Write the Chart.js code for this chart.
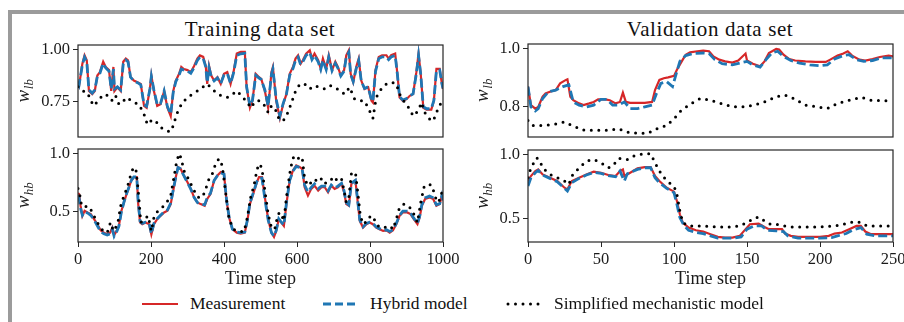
<!DOCTYPE html>
<html lang="en">
<head>
  <meta charset="UTF-8">
  <title>Training and validation data set</title>
  <script src="https://cdn.jsdelivr.net/npm/chart.js"></script>
  <style>
    body {
      margin: 0;
      width: 904px;
      height: 322px;
      position: relative;
      overflow: hidden;
      background: #fff;
      font-family: 'Liberation Serif', 'Times New Roman', serif;
      color: #111;
    }
    .frame-top { position: absolute; left: 8px; top: 10px; width: 896px; height: 4px; background: #9b9b9b; }
    .frame-left { position: absolute; left: 8px; top: 10px; width: 4px; height: 312px; background: #9b9b9b; }
    canvas { position: absolute; }
    .title {
      position: absolute;
      top: 17px;
      width: 400px;
      text-align: center;
      font-size: 21px;
      line-height: 24px;
      letter-spacing: 0.6px;
    }
    .leg {
      position: absolute;
      top: 293px;
      font-size: 17.5px;
      line-height: 20px;
      white-space: nowrap;
    }
    svg { position: absolute; }
  </style>
</head>
<body>
  <div class="frame-top"></div>
  <div class="frame-left"></div>

  <div class="title" style="left:60px">Training data set</div>
  <div class="title" style="left:510px">Validation data set</div>

  <canvas id="trLb" width="460" height="100" style="left:0;top:40px"></canvas>
  <canvas id="trHb" width="460" height="146" style="left:0;top:144px"></canvas>
  <canvas id="vaLb" width="454" height="100" style="left:450px;top:40px"></canvas>
  <canvas id="vaHb" width="454" height="146" style="left:450px;top:144px"></canvas>

  <svg style="left:142px;top:298px" width="36" height="12"><line x1="0" y1="6" x2="36" y2="6" stroke="#d62728" stroke-width="2.2"/></svg>
  <div class="leg" style="left:190px">Measurement</div>
  <svg style="left:323px;top:298px" width="36" height="12"><line x1="0" y1="6" x2="36" y2="6" stroke="#1f77b4" stroke-width="2.8" stroke-dasharray="8 4"/></svg>
  <div class="leg" style="left:370px">Hybrid model</div>
  <svg style="left:506px;top:298px" width="36" height="12"><line x1="2" y1="6" x2="34" y2="6" stroke="#000" stroke-width="3" stroke-linecap="round" stroke-dasharray="0 7.5"/></svg>
  <div class="leg" style="left:554px">Simplified mechanistic model</div>

  <script>
    // tick positions and labels
    const trTicksX = [0, 200, 400, 600, 800, 1000];
    const vaTicksX = [0, 50, 100, 150, 200, 250];
    const trLbTicks = [0.75, 1.00];
    const trLbTickLabels = ['0.75', '1.00'];
    const trHbTicks = [0.5, 1.0];
    const trHbTickLabels = ['0.5', '1.0'];
    const vaLbTicks = [0.8, 1.0];
    const vaLbTickLabels = ['0.8', '1.0'];
    const vaHbTicks = [0.5, 1.0];
    const vaHbTickLabels = ['0.5', '1.0'];

    // training set, w_lb
    const trLbT = [0,3,12,18,24,30,39,46,53,60,69,76,85,91,97,100,108,117,124,131,137,144,153,163,172,181,188,197,201,208,217,226,236,245,254,261,268,277,283,290,300,309,318,327,334,343,350,354,359,365,373,382,391,400,409,418,426,435,446,457,462,471,478,487,496,502,512,521,530,534,543,553,562,571,580,589,596,603,610,616,625,635,641,648,658,665,671,680,687,696,705,712,720,729,735,742,747,754,763,769,776,785,795,804,808,815,824,833,845,851,858,869,875,881,890,900,909,918,927,933,939,946,955,968,975,982,991,997,1000];
    const trLbMeas = [0.84,0.826,0.931,0.971,0.947,0.80,0.785,0.80,0.874,0.89,0.94,0.915,0.90,0.80,0.915,0.80,0.818,0.80,0.94,0.955,0.947,0.866,0.85,0.842,0.834,0.729,0.72,0.81,0.874,0.80,0.729,0.737,0.80,0.72,0.68,0.80,0.85,0.882,0.915,0.905,0.90,0.89,0.92,0.955,0.97,0.963,0.92,0.834,0.92,0.874,0.85,0.866,0.834,0.882,0.89,0.834,0.89,0.979,0.987,0.987,0.818,0.72,0.753,0.882,0.866,0.858,0.80,0.72,0.89,0.915,0.753,0.67,0.737,0.785,0.882,0.915,0.955,0.971,0.931,0.947,0.979,0.995,0.955,0.979,0.947,0.906,0.955,0.906,0.971,0.90,0.94,0.915,0.874,0.90,0.971,0.995,0.882,0.842,0.92,0.955,0.85,0.81,0.818,0.753,0.745,0.90,0.963,0.971,0.971,0.955,0.971,0.979,0.882,0.769,0.753,0.761,0.777,0.785,0.89,0.979,0.882,0.72,0.711,0.711,0.753,0.906,0.906,0.834,0.81];
    const trLbHyb = [0.845,0.83,0.925,0.962,0.94,0.805,0.79,0.805,0.87,0.885,0.932,0.91,0.895,0.81,0.905,0.81,0.82,0.805,0.93,0.948,0.94,0.866,0.848,0.84,0.83,0.735,0.727,0.81,0.87,0.805,0.735,0.74,0.80,0.725,0.69,0.795,0.845,0.876,0.905,0.90,0.895,0.885,0.912,0.946,0.962,0.956,0.915,0.84,0.912,0.87,0.848,0.862,0.836,0.876,0.884,0.836,0.885,0.97,0.978,0.98,0.82,0.728,0.755,0.875,0.862,0.855,0.805,0.728,0.88,0.905,0.76,0.68,0.74,0.785,0.875,0.908,0.946,0.962,0.926,0.94,0.97,0.985,0.95,0.97,0.94,0.903,0.947,0.903,0.962,0.897,0.932,0.91,0.872,0.895,0.962,0.985,0.88,0.845,0.912,0.946,0.848,0.812,0.82,0.758,0.75,0.892,0.955,0.963,0.963,0.95,0.963,0.97,0.88,0.772,0.757,0.764,0.778,0.786,0.883,0.97,0.88,0.725,0.715,0.715,0.755,0.898,0.90,0.835,0.812];
    const trLbSimT = [0,3,12,26,35,44,58,71,85,94,103,112,122,131,140,153,167,181,190,204,217,231,245,256,263,274,286,300,313,327,341,354,368,382,395,409,423,437,450,462,473,487,500,512,521,530,539,550,562,575,585,596,608,621,635,648,662,676,690,705,717,731,744,758,772,785,799,808,817,831,845,858,872,881,895,909,918,932,941,950,964,973,984,995,1000];
    const trLbSim = [0.82,0.818,0.80,0.793,0.753,0.729,0.761,0.785,0.777,0.753,0.777,0.737,0.745,0.769,0.761,0.745,0.737,0.689,0.64,0.664,0.648,0.62,0.608,0.608,0.648,0.705,0.745,0.769,0.785,0.80,0.818,0.834,0.81,0.785,0.777,0.769,0.785,0.80,0.769,0.753,0.72,0.753,0.753,0.729,0.697,0.729,0.72,0.67,0.656,0.697,0.745,0.80,0.834,0.834,0.81,0.826,0.818,0.81,0.826,0.818,0.80,0.785,0.818,0.761,0.753,0.753,0.705,0.67,0.769,0.81,0.834,0.842,0.834,0.785,0.745,0.713,0.68,0.705,0.745,0.697,0.664,0.656,0.705,0.745,0.75];

    // training set, w_hb
    const trHbT = [0,3,7,12,18,26,35,44,53,62,71,80,88,94,99,106,112,119,126,133,140,146,153,161,165,170,176,185,195,201,208,217,226,236,245,254,261,268,274,281,290,300,309,318,327,336,347,354,363,373,382,391,400,407,414,423,435,446,457,464,471,480,490,496,504,512,521,530,537,543,550,557,564,571,580,589,598,608,614,621,630,639,648,658,667,676,685,694,703,712,722,729,735,742,749,760,765,772,781,790,799,808,817,826,836,845,854,863,872,881,890,902,911,920,930,936,942,951,963,973,982,991,997,1000];
    const trHbMeas = [0.66,0.653,0.552,0.465,0.509,0.494,0.48,0.436,0.393,0.341,0.32,0.306,0.32,0.364,0.30,0.335,0.379,0.509,0.581,0.653,0.711,0.769,0.798,0.798,0.566,0.408,0.393,0.408,0.393,0.306,0.393,0.436,0.465,0.494,0.509,0.566,0.682,0.798,0.884,0.87,0.812,0.754,0.697,0.624,0.581,0.566,0.552,0.61,0.653,0.769,0.812,0.841,0.827,0.595,0.451,0.35,0.32,0.312,0.32,0.422,0.566,0.653,0.754,0.798,0.798,0.624,0.436,0.32,0.283,0.335,0.436,0.408,0.379,0.566,0.769,0.855,0.899,0.884,0.87,0.711,0.639,0.697,0.725,0.682,0.711,0.711,0.668,0.725,0.697,0.711,0.74,0.668,0.566,0.552,0.74,0.769,0.624,0.422,0.364,0.393,0.408,0.393,0.364,0.35,0.335,0.34,0.32,0.34,0.393,0.465,0.494,0.494,0.48,0.436,0.393,0.451,0.552,0.61,0.624,0.61,0.552,0.566,0.639,0.60];
    const trHbHyb = [0.64,0.62,0.53,0.47,0.50,0.49,0.47,0.43,0.38,0.33,0.31,0.30,0.31,0.35,0.29,0.33,0.375,0.50,0.585,0.655,0.715,0.77,0.80,0.80,0.58,0.42,0.40,0.41,0.40,0.31,0.40,0.44,0.47,0.50,0.515,0.575,0.69,0.80,0.88,0.87,0.81,0.75,0.695,0.625,0.58,0.565,0.56,0.62,0.66,0.77,0.81,0.835,0.825,0.60,0.455,0.35,0.325,0.32,0.325,0.43,0.575,0.66,0.76,0.79,0.79,0.61,0.43,0.32,0.29,0.34,0.44,0.41,0.385,0.575,0.77,0.85,0.89,0.88,0.87,0.73,0.67,0.71,0.74,0.70,0.72,0.72,0.68,0.73,0.705,0.72,0.745,0.68,0.58,0.56,0.745,0.77,0.63,0.43,0.37,0.40,0.41,0.40,0.37,0.355,0.34,0.345,0.33,0.345,0.40,0.47,0.505,0.505,0.49,0.445,0.40,0.46,0.56,0.62,0.635,0.62,0.56,0.57,0.64,0.60];
    const trHbSimT = [0,3,9,16,26,37,46,58,69,80,89,97,103,110,117,126,135,144,152,159,165,172,181,192,201,208,219,231,243,254,263,270,277,283,290,300,309,318,329,341,350,359,368,377,386,395,405,414,426,441,455,464,473,482,491,498,504,512,521,530,539,548,555,564,571,580,588,596,605,614,621,630,639,648,658,667,676,685,694,703,712,722,729,735,742,749,760,767,774,784,795,808,817,829,840,854,863,872,881,893,906,918,930,939,948,959,970,979,988,997,1000];
    const trHbSim = [0.70,0.682,0.566,0.538,0.552,0.509,0.451,0.379,0.335,0.32,0.408,0.335,0.364,0.422,0.552,0.639,0.711,0.812,0.884,0.855,0.682,0.408,0.436,0.465,0.335,0.451,0.509,0.538,0.581,0.639,0.798,0.928,1.0,0.957,0.855,0.798,0.74,0.682,0.624,0.624,0.697,0.783,0.827,0.913,0.957,0.899,0.653,0.436,0.35,0.33,0.33,0.451,0.624,0.725,0.87,0.913,0.87,0.682,0.48,0.364,0.35,0.48,0.494,0.422,0.624,0.827,0.957,0.986,0.957,0.971,0.783,0.725,0.754,0.783,0.754,0.783,0.74,0.769,0.783,0.754,0.798,0.783,0.682,0.581,0.624,0.827,0.841,0.653,0.451,0.393,0.451,0.465,0.393,0.364,0.364,0.379,0.35,0.436,0.538,0.566,0.552,0.494,0.408,0.581,0.711,0.74,0.725,0.624,0.581,0.668,0.68];

    // validation set, w_lb
    const vaLbMeasT = [0,2,5,7,10,12,15,19,22,26,27,29,31,35,38,42,45,48,53,56,60,63,65,67,70,75,80,85,87,90,93,96,100,102,106,108,111,116,120,124,127,131,135,140,144,149,150,154,159,162,165,170,172,175,179,183,190,197,204,207,212,216,219,222,227,231,236,241,247,250];
    const vaLbMeas = [0.87,0.806,0.794,0.80,0.835,0.846,0.852,0.858,0.881,0.893,0.895,0.835,0.823,0.812,0.806,0.812,0.817,0.826,0.826,0.823,0.812,0.817,0.849,0.817,0.814,0.814,0.814,0.817,0.858,0.893,0.899,0.902,0.907,0.928,0.963,0.98,0.988,0.992,0.994,0.992,0.974,0.963,0.957,0.953,0.96,0.984,0.96,0.949,0.94,0.957,0.986,1.0,0.998,0.98,0.965,0.96,0.957,0.955,0.955,0.963,0.977,0.984,0.992,0.977,0.963,0.96,0.965,0.972,0.977,0.974];
    const vaLbHybT = [0,2,5,7,10,14,19,24,28,31,35,40,45,50,54,58,62,66,70,75,80,85,88,91,95,99,101,104,108,113,120,124,128,133,140,145,150,154,159,163,167,171,175,180,186,193,200,205,210,216,220,225,230,236,242,250];
    const vaLbHyb = [0.87,0.80,0.786,0.794,0.829,0.852,0.858,0.87,0.876,0.817,0.806,0.80,0.806,0.826,0.826,0.806,0.806,0.817,0.794,0.794,0.80,0.806,0.846,0.881,0.887,0.87,0.905,0.957,0.977,0.984,0.986,0.984,0.963,0.949,0.945,0.951,0.957,0.945,0.937,0.963,0.986,0.992,0.974,0.96,0.951,0.945,0.942,0.945,0.965,0.977,0.98,0.963,0.957,0.96,0.969,0.969];
    const vaLbSimT = [0,3,10,15,20,25,30,38,45,55,62,68,75,82,88,95,100,105,112,118,125,132,140,148,155,162,170,176,182,190,198,205,212,220,228,235,242,250];
    const vaLbSim = [0.753,0.736,0.736,0.738,0.742,0.748,0.736,0.72,0.719,0.719,0.724,0.713,0.709,0.709,0.724,0.736,0.759,0.788,0.812,0.829,0.823,0.812,0.80,0.80,0.806,0.817,0.835,0.841,0.829,0.806,0.80,0.794,0.812,0.823,0.833,0.823,0.821,0.821];

    // validation set, w_hb
    const vaHbMeasT = [0,2,5,7,10,15,20,25,27,30,35,40,45,50,55,60,63,65,66,70,75,80,84,87,90,95,100,102,104,106,110,115,120,125,130,135,140,145,148,152,158,162,165,170,174,176,180,185,190,200,206,210,215,220,225,228,231,235,240,250];
    const vaHbMeas = [0.792,0.831,0.87,0.883,0.844,0.818,0.792,0.74,0.727,0.792,0.818,0.844,0.865,0.857,0.839,0.831,0.87,0.883,0.831,0.857,0.891,0.901,0.901,0.831,0.792,0.74,0.709,0.636,0.532,0.467,0.428,0.407,0.397,0.376,0.355,0.35,0.35,0.363,0.402,0.454,0.459,0.433,0.415,0.415,0.415,0.381,0.363,0.355,0.355,0.355,0.363,0.381,0.389,0.415,0.441,0.441,0.397,0.376,0.376,0.376];
    const vaHbHybT = [0,2,5,7,10,15,20,25,27,30,35,40,45,50,55,60,63,66,68,75,80,84,87,90,95,100,102,104,107,110,115,120,125,130,140,146,150,155,160,164,170,175,178,185,200,208,212,218,222,228,232,238,250];
    const vaHbHyb = [0.753,0.818,0.857,0.875,0.839,0.813,0.787,0.735,0.714,0.779,0.813,0.839,0.86,0.852,0.834,0.826,0.87,0.792,0.849,0.883,0.896,0.896,0.818,0.779,0.735,0.701,0.61,0.506,0.441,0.407,0.389,0.381,0.363,0.345,0.345,0.355,0.415,0.441,0.441,0.407,0.402,0.397,0.363,0.345,0.345,0.35,0.363,0.381,0.407,0.428,0.376,0.363,0.363];
    const vaHbSimT = [0,2,4,6,8,10,15,20,25,28,30,35,40,45,50,55,58,62,65,68,72,76,80,84,87,90,95,100,102,104,106,110,120,130,140,145,150,155,158,162,166,170,175,180,190,200,210,215,220,225,228,232,240,250];
    const vaHbSim = [0.818,0.896,0.935,0.974,0.953,0.896,0.844,0.818,0.792,0.766,0.831,0.896,0.948,0.961,0.935,0.896,0.909,0.969,0.969,0.961,0.987,1.0,1.005,1.005,0.935,0.87,0.792,0.753,0.688,0.558,0.467,0.441,0.441,0.433,0.433,0.441,0.467,0.501,0.511,0.48,0.454,0.454,0.441,0.433,0.433,0.433,0.441,0.449,0.467,0.475,0.467,0.441,0.441,0.441];

    const FONT = "'Liberation Serif', 'Times New Roman', serif";
    const INK = '#1a1a1a';

    function pts(t, v) {
      return t.map((x, i) => ({ x: x, y: v[i] }));
    }

    // box around the plot area
    const framePlugin = {
      id: 'frame',
      afterDraw(chart) {
        const a = chart.chartArea, ctx = chart.ctx;
        ctx.save();
        ctx.strokeStyle = '#262626';
        ctx.lineWidth = 1.2;
        ctx.strokeRect(a.left, a.top, a.right - a.left, a.bottom - a.top);
        ctx.restore();
      }
    };

    // rotated y label with subscript (w_lb / w_hb)
    const yLabelPlugin = {
      id: 'ylab',
      afterDraw(chart, args, o) {
        const a = chart.chartArea, ctx = chart.ctx;
        ctx.save();
        ctx.translate(o.x, (a.top + a.bottom) / 2);
        ctx.rotate(-Math.PI / 2);
        ctx.fillStyle = INK;
        ctx.textBaseline = 'alphabetic';
        ctx.font = 'italic 19px ' + FONT;
        const w1 = ctx.measureText(o.main).width;
        ctx.font = 'italic 13px ' + FONT;
        const w2 = ctx.measureText(o.sub).width;
        const x0 = -(w1 + w2) / 2;
        ctx.font = 'italic 19px ' + FONT;
        ctx.fillText(o.main, x0, 4);
        ctx.font = 'italic 13px ' + FONT;
        ctx.fillText(o.sub, x0 + w1 + 0.5, 8);
        ctx.restore();
      }
    };

    function yScale(min, max, ticks, labels) {
      return {
        type: 'linear', min: min, max: max,
        afterBuildTicks(s) { s.ticks = ticks.map(v => ({ value: v })); },
        afterFit(s) { s.width = 78; s.paddingTop = 0; s.paddingBottom = 0; },
        grid: { drawOnChartArea: false, drawTicks: true, tickLength: 5, color: '#262626', lineWidth: 1 },
        border: { display: false },
        ticks: { color: INK, padding: 3, font: { family: FONT, size: 16.5 }, callback: (v, i) => labels[i] }
      };
    }

    function xScale(max, ticks, bottom) {
      const s = {
        type: 'linear', min: 0, max: max,
        afterBuildTicks(sc) { sc.ticks = ticks.map(v => ({ value: v })); }
      };
      if (!bottom) {
        s.display = false;
        return s;
      }
      s.afterFit = function (sc) { sc.height = 48; sc.paddingLeft = 0; sc.paddingRight = 0; };
      s.grid = { drawOnChartArea: false, drawTicks: true, tickLength: 5, color: '#262626', lineWidth: 1 };
      s.border = { display: false };
      s.ticks = { color: INK, padding: 3, maxRotation: 0, autoSkip: false, font: { family: FONT, size: 16.5 }, callback: v => String(v) };
      s.title = { display: true, text: 'Time step', color: INK, padding: { top: 0, bottom: 0 }, font: { family: FONT, size: 18 } };
      return s;
    }

    function panel(id, o) {
      new Chart(document.getElementById(id), {
        type: 'line',
        data: {
          datasets: [
            { label: 'Measurement', data: pts(o.mT, o.m), borderColor: '#d62728', borderWidth: 2.2, order: 3 },
            { label: 'Hybrid model', data: pts(o.hT, o.h), borderColor: '#1f77b4', borderWidth: 2.8, borderDash: [9, 4], order: 2 },
            { label: 'Simplified mechanistic model', data: pts(o.sT, o.s), borderColor: '#000', borderWidth: 3,
              borderDash: [0, 7.5], borderCapStyle: 'round', order: 1 }
          ]
        },
        options: {
          responsive: false,
          animation: false,
          parsing: false,
          elements: { point: { radius: 0 }, line: { tension: 0, fill: false } },
          layout: { padding: o.pad },
          plugins: {
            legend: { display: false },
            tooltip: { enabled: false },
            ylab: { x: o.labX, main: 'w', sub: o.sub }
          },
          scales: {
            x: xScale(o.xMax, o.xTicks, o.bottom),
            y: yScale(o.yMin, o.yMax, o.yTicks, o.yLabels)
          }
        },
        plugins: [framePlugin, yLabelPlugin]
      });
    }

    panel('trLb', {
      mT: trLbT, m: trLbMeas, hT: trLbT, h: trLbHyb, sT: trLbSimT, s: trLbSim,
      xMax: 1000, xTicks: trTicksX, bottom: false,
      yMin: 0.58, yMax: 1.02, yTicks: trLbTicks, yLabels: trLbTickLabels,
      pad: { top: 5, right: 17, bottom: 3, left: 0 }, labX: 25, sub: 'lb'
    });
    panel('trHb', {
      mT: trHbT, m: trHbMeas, hT: trHbT, h: trHbHyb, sT: trHbSimT, s: trHbSim,
      xMax: 1000, xTicks: trTicksX, bottom: true,
      yMin: 0.24, yMax: 1.04, yTicks: trHbTicks, yLabels: trHbTickLabels,
      pad: { top: 5, right: 17, bottom: 0, left: 0 }, labX: 25, sub: 'hb'
    });
    panel('vaLb', {
      mT: vaLbMeasT, m: vaLbMeas, hT: vaLbHybT, h: vaLbHyb, sT: vaLbSimT, s: vaLbSim,
      xMax: 250, xTicks: vaTicksX, bottom: false,
      yMin: 0.696, yMax: 1.017, yTicks: vaLbTicks, yLabels: vaLbTickLabels,
      pad: { top: 4, right: 11, bottom: 3, left: 0 }, labX: 34, sub: 'lb'
    });
    panel('vaHb', {
      mT: vaHbMeasT, m: vaHbMeas, hT: vaHbHybT, h: vaHbHyb, sT: vaHbSimT, s: vaHbSim,
      xMax: 250, xTicks: vaTicksX, bottom: true,
      yMin: 0.315, yMax: 1.035, yTicks: vaHbTicks, yLabels: vaHbTickLabels,
      pad: { top: 6, right: 11, bottom: 0, left: 0 }, labX: 34, sub: 'hb'
    });
  </script>
</body>
</html>
